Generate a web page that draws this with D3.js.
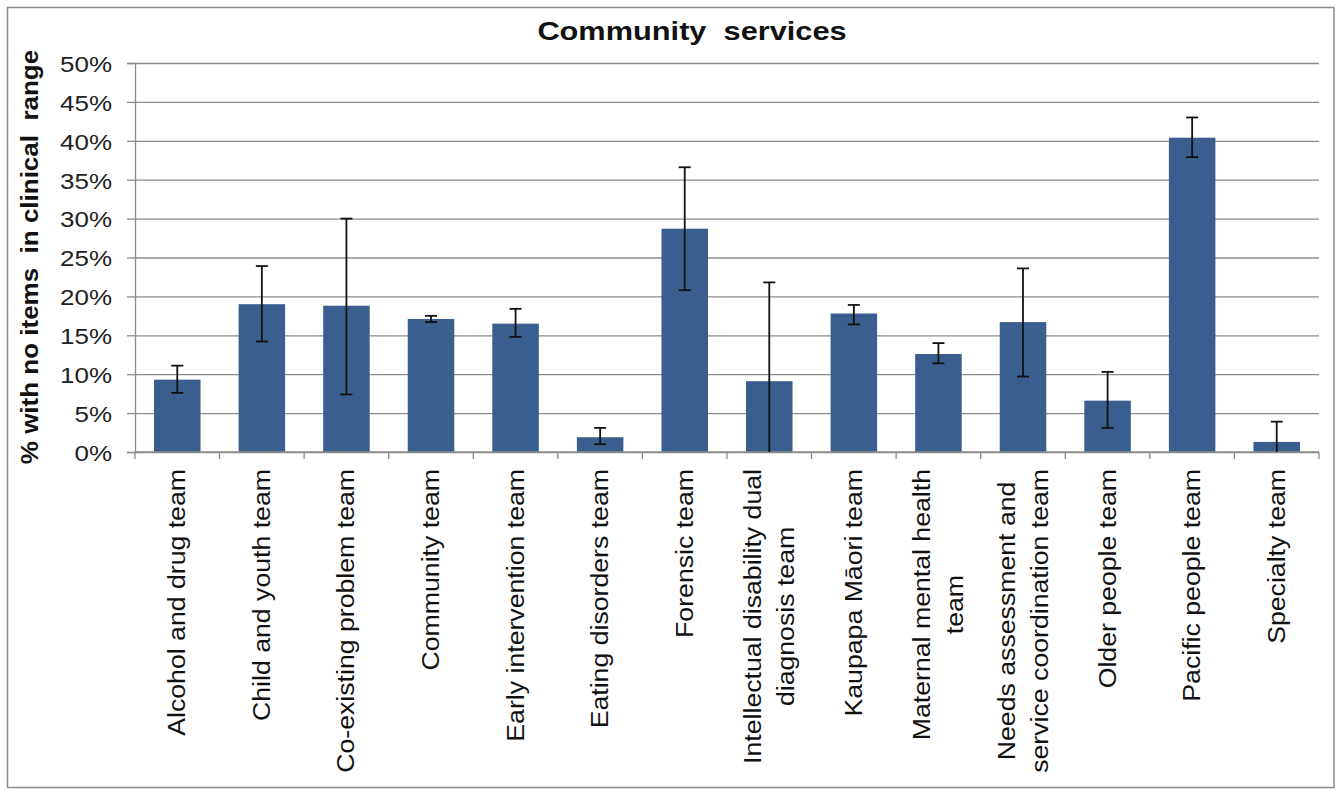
<!DOCTYPE html>
<html>
<head>
<meta charset="utf-8">
<script src="https://cdn.jsdelivr.net/npm/d3@7"></script>
<style>
  html, body { margin: 0; padding: 0; background: #fff; }
  svg { display: block; font-family: "Liberation Sans", Arial, sans-serif; }
</style>
</head>
<body>
<svg id="chart" width="1339" height="790"></svg>
<script>
// ---- data ----
const categories = [
  "Alcohol and drug team",
  "Child and youth team",
  "Co-existing problem team",
  "Community team",
  "Early intervention team",
  "Eating disorders team",
  "Forensic team",
  "Intellectual disability dual diagnosis team",
  "Kaupapa Māori team",
  "Maternal mental health team",
  "Needs assessment and service coordination team",
  "Older people team",
  "Pacific people team",
  "Specialty team"
];
const categoryLines = [
  ["Alcohol and drug team"],
  ["Child and youth team"],
  ["Co-existing problem team"],
  ["Community team"],
  ["Early intervention team"],
  ["Eating disorders team"],
  ["Forensic team"],
  ["Intellectual disability dual", "diagnosis team"],
  ["Kaupapa Māori team"],
  ["Maternal mental health", "team"],
  ["Needs assessment and", "service coordination team"],
  ["Older people team"],
  ["Pacific people team"],
  ["Specialty team"]
];
const values    = [9.3, 19.0, 18.8, 17.1, 16.5, 1.9, 28.7, 9.1, 17.8, 12.6, 16.7, 6.6, 40.4, 1.3];
const errorHigh = [11.1, 23.9, 30.0, 17.5, 18.4, 3.1, 36.6, 21.8, 18.9, 14.0, 23.6, 10.3, 43.0, 3.9];
const errorLow  = [7.6, 14.2, 7.4, 16.7, 14.8, 1.0, 20.8, 0, 16.4, 11.4, 9.7, 3.1, 37.9, 0];
const yTicks = [0, 5, 10, 15, 20, 25, 30, 35, 40, 45, 50];
const chartTitle = "Community  services";
const yTitle = "% with no items  in clinical  range";

// ---- layout ----
const svg = d3.select("#chart");
const plotLeft = 135, plotRight = 1319, plotTop = 63, plotBottom = 452;
const barColor = "#3A5F8E";
const gridColor = "#8C8C8C";

svg.append("rect")
  .attr("x", 7.5).attr("y", 7.5).attr("width", 1326.5).attr("height", 780)
  .attr("fill", "#fff").attr("stroke", "#8A8A8A").attr("stroke-width", 1.5);

const x = d3.scaleBand().domain(categories).range([plotLeft, plotRight])
  .paddingInner(0.45).paddingOuter(0.225);
const y = d3.scaleLinear().domain([0, 50]).range([plotBottom, plotTop]);

// gridlines
svg.append("g")
  .attr("transform", `translate(${plotLeft},0)`)
  .call(d3.axisLeft(y).tickValues(yTicks).tickSize(-(plotRight - plotLeft)).tickFormat(""))
  .call(g => g.select(".domain").remove())
  .call(g => g.selectAll("line").attr("stroke", gridColor).attr("stroke-width", 1.3));

// y axis
const yAxis = svg.append("g")
  .attr("transform", `translate(${plotLeft},0)`)
  .call(d3.axisLeft(y).tickValues(yTicks).tickSize(8).tickFormat(d => d + "%"));
yAxis.select(".domain").attr("stroke", gridColor).attr("stroke-width", 1.3);
yAxis.selectAll("line").attr("stroke", gridColor).attr("stroke-width", 1.3);
yAxis.selectAll("text")
  .attr("x", null).attr("dy", "0.38em")
  .attr("text-anchor", "end")
  .attr("transform", "translate(-23,0) scale(1.18,1)")
  .attr("font-size", 22).attr("fill", "#222")
  .attr("font-family", "'Liberation Sans', Arial, sans-serif");

// bars
svg.append("g").selectAll("rect")
  .data(categories)
  .join("rect")
  .attr("x", d => x(d))
  .attr("width", x.bandwidth())
  .attr("y", (d, i) => y(values[i]))
  .attr("height", (d, i) => y(0) - y(values[i]))
  .attr("fill", barColor);

// x axis line and boundary ticks
svg.append("g")
  .attr("transform", `translate(0,${plotBottom})`)
  .call(d3.axisBottom(x).tickSize(0).tickFormat(""))
  .call(g => g.select(".domain").attr("stroke", gridColor).attr("stroke-width", 1.3)
              .attr("d", `M${plotLeft},0H${plotRight}`));
const boundaries = d3.range(categories.length + 1).map(i => plotLeft + i * (plotRight - plotLeft) / categories.length);
svg.append("g").selectAll("line")
  .data(boundaries)
  .join("line")
  .attr("x1", d => d).attr("x2", d => d)
  .attr("y1", plotBottom).attr("y2", plotBottom + 7)
  .attr("stroke", gridColor).attr("stroke-width", 1.3);

// error bars
const eb = svg.append("g").attr("stroke", "#111").attr("stroke-width", 1.8);
categories.forEach((c, i) => {
  const cx = x(c) + x.bandwidth() / 2;
  eb.append("line").attr("x1", cx).attr("x2", cx)
    .attr("y1", y(errorLow[i])).attr("y2", y(errorHigh[i]));
  eb.append("line").attr("x1", cx - 6).attr("x2", cx + 6)
    .attr("y1", y(errorHigh[i])).attr("y2", y(errorHigh[i]));
  if (errorLow[i] > 0) {
    eb.append("line").attr("x1", cx - 6).attr("x2", cx + 6)
      .attr("y1", y(errorLow[i])).attr("y2", y(errorLow[i]));
  }
});

// category labels (rotated)
const labelTop = 469;
const labelG = svg.append("g").attr("fill", "#111");
categories.forEach((c, i) => {
  const cx = x(c) + x.bandwidth() / 2;
  const g = labelG.append("g")
    .attr("transform", `translate(${cx},${labelTop}) rotate(-90) scale(1.16,1)`);
  const lines = categoryLines[i];
  const texts = lines.map((ln, j) => g.append("text")
    .attr("font-size", 23)
    .attr("text-anchor", "middle")
    .attr("y", (j - (lines.length - 1) / 2) * 33)
    .attr("dy", "0.35em")
    .text(ln));
  const maxLen = d3.max(texts, t => t.node().getComputedTextLength());
  texts.forEach(t => t.attr("x", -maxLen / 2));
});

// title
svg.append("text")
  .attr("transform", "translate(692,39.5) scale(1.23,1)")
  .attr("text-anchor", "middle")
  .attr("font-size", 25).attr("font-weight", "bold").attr("fill", "#111")
  .style("white-space", "pre")
  .text(chartTitle);

// y axis title
svg.append("text")
  .attr("transform", "translate(38,257) rotate(-90) scale(1.13,1)")
  .attr("text-anchor", "middle")
  .attr("font-size", 23).attr("font-weight", "bold").attr("fill", "#111")
  .style("white-space", "pre")
  .text(yTitle);
</script>
</body>
</html>
